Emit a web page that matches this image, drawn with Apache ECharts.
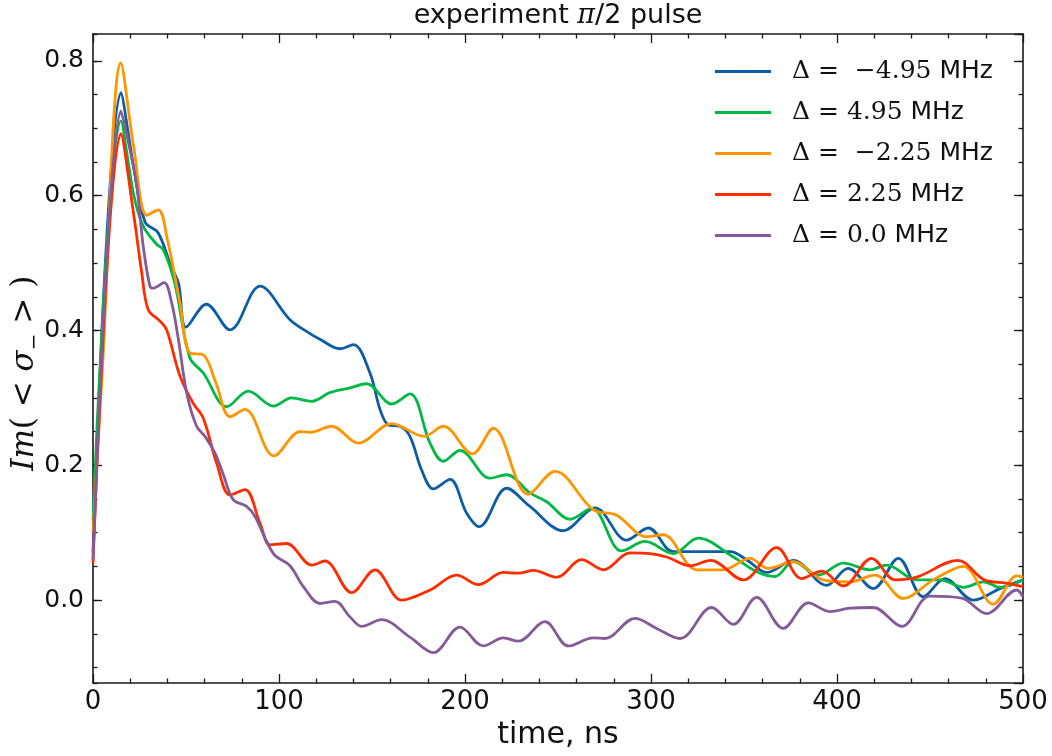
<!DOCTYPE html>
<html>
<head>
<meta charset="utf-8">
<script src="https://cdn.jsdelivr.net/npm/echarts@6/dist/echarts.min.js"></script>
<style>html,body{margin:0;padding:0;background:#fff}#c{width:1052px;height:756px}</style>
</head>
<body>
<div id="c"></div>
<script>
// ---- data: [time (ns), Im(<sigma_->)] ----
const blue = [[0,0.07],[15,0.753],[22,0.64],[28,0.561],[35,0.545],[42,0.495],[46,0.47],[50,0.405],[61,0.439],[73.7,0.401],[89.8,0.466],[105.9,0.416],[115.8,0.397],[122,0.387],[132.8,0.373],[140,0.379],[148.9,0.337],[154.3,0.283],[158.8,0.26],[165,0.258],[170.4,0.243],[176.7,0.193],[183,0.165],[191.9,0.179],[200.9,0.129],[207.7,0.109],[222.4,0.166],[234.9,0.139],[252.8,0.103],[269.9,0.137],[286.9,0.089],[298.6,0.107],[312,0.072],[331.7,0.072],[342.5,0.072],[351.4,0.06],[362.2,0.041],[376.5,0.059],[394.4,0.022],[406,0.047],[419.5,0.017],[433,0.062],[446.4,0.005],[458,0.032],[473.3,0.0],[487.6,0.017],[500,0.03]];
const green = [[0,0.12],[15,0.711],[22,0.6],[27,0.555],[34.2,0.528],[37.8,0.52],[44,0.47],[52,0.36],[59.3,0.337],[71.9,0.287],[83.5,0.31],[97,0.288],[106.8,0.3],[117.6,0.295],[127.4,0.308],[138.2,0.315],[147.1,0.321],[160.6,0.291],[170.4,0.306],[181.2,0.233],[188.3,0.206],[197.3,0.222],[213.4,0.181],[222.4,0.186],[234.9,0.159],[243.9,0.146],[256.5,0.12],[268.1,0.136],[284.2,0.073],[296.8,0.087],[312,0.069],[325.4,0.092],[344.3,0.064],[356.8,0.042],[366.7,0.035],[376.5,0.057],[390,0.037],[403.4,0.055],[417.7,0.045],[426.7,0.052],[442.8,0.03],[455.4,0.03],[467.9,0.019],[478.7,0.027],[487.6,0.019],[500,0.03]];
const orange = [[0,0.1],[5,0.34],[15,0.797],[22,0.67],[28.9,0.571],[35.1,0.579],[40,0.535],[46.8,0.44],[52,0.367],[59.3,0.364],[66,0.323],[73.7,0.272],[81.7,0.283],[97.3,0.214],[111.3,0.25],[116.7,0.249],[128.3,0.258],[142.6,0.233],[160.6,0.262],[178,0.243],[188.3,0.258],[204,0.217],[215.2,0.255],[234,0.157],[248.4,0.191],[269,0.134],[281.5,0.126],[297.7,0.094],[306.6,0.097],[324.6,0.045],[338.9,0.045],[353.2,0.062],[363,0.047],[376.5,0.057],[392.6,0.03],[407,0.027],[420.4,0.037],[435.7,0.0025],[451.8,0.03],[467.9,0.05],[484,-0.006],[496.6,0.036],[500,0.034]];
const red = [[0,0.055],[15,0.692],[22,0.57],[26.2,0.486],[29.7,0.431],[36,0.414],[39.6,0.401],[46.8,0.332],[53.9,0.292],[59.3,0.27],[66.5,0.203],[73.7,0.156],[81.7,0.164],[89.8,0.114],[95.2,0.082],[104.1,0.084],[117.6,0.052],[124.7,0.058],[139.1,0.011],[151.6,0.045],[166,0.0],[181.2,0.015],[195.5,0.037],[207.2,0.023],[220.6,0.041],[228.7,0.04],[236.7,0.044],[249.3,0.034],[262.7,0.06],[274.4,0.045],[288.7,0.07],[299.5,0.069],[308.4,0.064],[321,0.051],[332,0.059],[349.6,0.03],[367.6,0.078],[381,0.032],[391.8,0.043],[403.4,0.021],[418.6,0.062],[431.2,0.03],[442.8,0.034],[464.9,0.059],[479.2,0.03],[491.2,0.025],[500,0.02]];
const purple = [[0,0.06],[15,0.726],[19,0.68],[23.5,0.615],[27,0.525],[30.6,0.466],[32.4,0.463],[38.2,0.471],[42.3,0.441],[45.9,0.387],[50.4,0.307],[55.7,0.258],[60.2,0.243],[65.6,0.218],[70.1,0.186],[75.4,0.149],[82.6,0.139],[87.1,0.124],[97,0.069],[105.9,0.051],[113.1,0.02],[122,-0.005],[130.1,-0.002],[138.2,-0.025],[144.4,-0.039],[155.2,-0.029],[170.4,-0.055],[183,-0.078],[197.3,-0.04],[209.8,-0.068],[220.6,-0.056],[228.7,-0.061],[243,-0.032],[255.6,-0.068],[269,-0.056],[275.3,-0.057],[291.4,-0.027],[303,-0.042],[315.6,-0.057],[332.6,-0.011],[344.3,-0.036],[356.8,0.004],[371.1,-0.042],[384.6,-0.004],[396.2,-0.017],[407,-0.012],[419.5,-0.011],[434.8,-0.039],[450,0.006],[467,0.003],[480.5,-0.02],[496.6,0.015],[500,0.005]];

const seriesNames = ['Δ = −4.95 MHz', 'Δ = 4.95 MHz', 'Δ = −2.25 MHz', 'Δ = 2.25 MHz', 'Δ = 0.0 MHz'];
const legendMath = ['Δ =  −4.95', 'Δ = 4.95', 'Δ =  −2.25', 'Δ = 2.25', 'Δ = 0.0'];
const seriesData = [blue, green, orange, red, purple];
const colors = ['#0C5DA5', '#00B945', '#FF9500', '#FF2C00', '#845B97'];

const xMin = 0, xMax = 500, xStep = 100;
const yMin = -0.123, yMax = 0.84;

const chart = echarts.init(document.getElementById('c'), null, {renderer: 'canvas'});
const SANS = 'DejaVu Sans';
const SERIF = 'DejaVu Serif';
const axCol = '#1a1a1a';

function yAx(position, major, showLine, name) {
  const a = {
    type: 'value', position: position, min: yMin, max: yMax,
    splitNumber: major ? 5 : 20,
    axisLine: {show: showLine, onZero: false, lineStyle: {color: axCol, width: 1.6}},
    axisTick: {show: true, inside: true, length: major ? 9 : 4.5, lineStyle: {color: axCol, width: 1.3}},
    axisLabel: {show: false},
    splitLine: {show: false}
  };
  if (name) {
    a.axisLabel = {show: true, fontFamily: SANS, fontSize: 25, color: '#111', margin: 9,
      showMinLabel: false, showMaxLabel: false,
      formatter: v => (Math.abs(v) < 1e-9 ? 0 : v).toFixed(1)};
    a.name = '{i|Im}{n|( < }{i|σ}{s|−}{n| > )}{n|   }';
    a.nameLocation = 'middle';
    a.nameRotate = 90;
    a.nameGap = 48;
    a.nameMoveOverlap = false;
    a.nameTextStyle = {
      rich: {
        i: {fontFamily: SERIF, fontStyle: 'italic', fontSize: 31, color: '#111', lineHeight: 40, verticalAlign: 'middle'},
        n: {fontFamily: SERIF, fontSize: 31, color: '#111', lineHeight: 40, verticalAlign: 'middle'},
        s: {fontFamily: SERIF, fontSize: 20, color: '#111', lineHeight: 40, verticalAlign: 'bottom'}
      }
    };
  }
  return a;
}

function xAx(position, showLabels) {
  const a = {
    type: 'value', position: position, min: xMin, max: xMax, interval: xStep,
    axisLine: {show: true, onZero: false, lineStyle: {color: axCol, width: 1.6}},
    axisTick: {show: true, inside: true, length: 9, lineStyle: {color: axCol, width: 1.3}},
    minorTick: {show: true, splitNumber: 5, length: 4.5, lineStyle: {color: axCol, width: 1.3}},
    axisLabel: {show: showLabels, fontFamily: SANS, fontSize: 26, color: '#111', margin: 6},
    splitLine: {show: false}
  };
  if (showLabels) {
    a.name = 'time, ns';
    a.nameLocation = 'middle';
    a.nameGap = 36;
    a.nameTextStyle = {fontFamily: SANS, fontSize: 30, color: '#111'};
  }
  return a;
}

const option = {
  backgroundColor: '#fff',
  animation: false,
  grid: {left: 93, right: 29, top: 34, bottom: 73, containLabel: false, outerBoundsMode: 'none'},
  xAxis: [xAx('bottom', true), xAx('top', false)],
  yAxis: [yAx('left', true, true, true), yAx('left', false, false, false),
          yAx('right', true, true, false), yAx('right', false, false, false)],
  legend: {
    orient: 'vertical', left: 710, top: 54, itemGap: 16,
    icon: 'rect', itemWidth: 56, itemHeight: 3,
    data: seriesNames,
    formatter: function (name) {
      const k = seriesNames.indexOf(name);
      return '{m|' + legendMath[k] + '}{u| MHz}';
    },
    textStyle: {
      padding: [0, 0, 0, 16],
      rich: {
        m: {fontFamily: SERIF, fontSize: 25, color: '#111', lineHeight: 28},
        u: {fontFamily: SANS, fontSize: 25, color: '#111', lineHeight: 28}
      }
    }
  },
  graphic: [{
    type: 'text', x: 558, y: 16,
    style: {
      text: '{a|experiment }{p|π}{a|/2 pulse}',
      align: 'center', verticalAlign: 'middle',
      rich: {
        a: {fontFamily: SANS, fontSize: 27, fill: '#111'},
        p: {fontFamily: SERIF, fontStyle: 'italic', fontSize: 27, fill: '#111'}
      }
    }
  }],
  series: seriesData.map((d, k) => ({
    name: seriesNames[k], type: 'line', data: d,
    xAxisIndex: 0, yAxisIndex: 0,
    smooth: 0.35, symbol: 'none', showSymbol: false,
    lineStyle: {color: colors[k], width: 2.8},
    itemStyle: {color: colors[k]},
    z: 2 + k
  }))
};
chart.setOption(option);
</script>
</body>
</html>
